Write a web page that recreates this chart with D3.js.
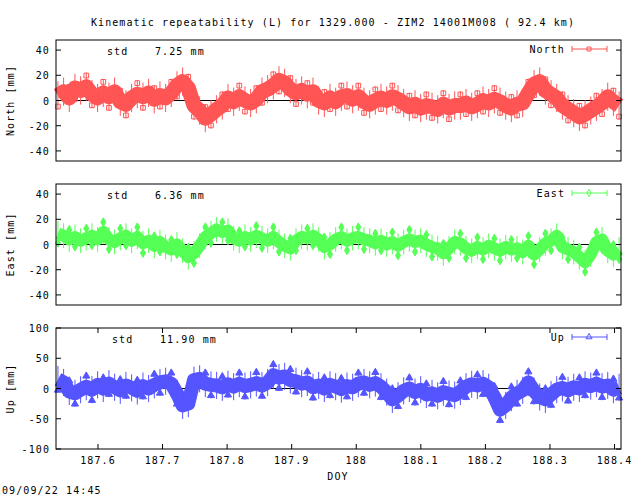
<!DOCTYPE html>
<html><head><meta charset="utf-8">
<script src="https://cdn.jsdelivr.net/npm/d3@7"></script>
<style>body{margin:0;background:#fff}text{font-family:"DejaVu Sans Mono",monospace;font-size:10px;letter-spacing:1.1px;fill:#000}</style>
</head><body><svg id="c" width="640" height="496"></svg>
<script>
const xStart = 187.535, xEnd = 188.41;
const xTicks = [187.6,187.7,187.8,187.9,188,188.1,188.2,188.3,188.4];
const xTickLabels = ["187.6","187.7","187.8","187.9","188","188.1","188.2","188.3","188.4"];
const north = [4,7,2,10,8,11,5,2,6,3,7,-1,-3,2,5,3,6,1,4,2,6,12,15,10,-4,-8,-14,-11,-7,-4,2,-1,3,0,-2,1,7,9,12,16,14,9,6,8,5,7,0,-2,2,-1,3,4,1,3,-1,-3,0,2,0,3,1,-2,-5,-3,-6,-4,-5,-7,-3,-6,-4,-4,-2,-5,-3,0,-2,1,-1,-4,-6,-3,-2,6,13,15,8,5,2,-4,-7,-10,-13,-11,-8,-5,-2,3,-1,-4];
const east = [9,7,4,6,3,5,7,4,10,4,2,5,7,3,6,1,3,-1,2,-2,-4,0,-5,-10,-7,-1,6,9,12,10,11,5,3,6,4,7,5,3,6,2,-1,-3,3,6,5,7,4,-2,0,4,6,3,5,6,4,3,1,3,0,2,-1,2,4,2,3,0,-2,-3,-7,-3,2,1,-3,-5,-2,-4,-1,-3,-5,-2,-4,-3,-6,-1,-8,-4,1,3,7,-2,-4,-6,-10,-14,-8,2,4,-5,-8,-4];
const up = [15,10,-5,-8,-2,3,-2,6,0,8,2,-3,5,1,-4,4,0,6,10,12,8,-8,-28,-25,14,16,8,6,5,2,7,3,8,4,6,9,5,10,22,18,20,14,12,8,10,2,5,0,6,3,-1,4,2,8,10,6,9,3,-6,-18,-12,-4,0,-6,-2,-10,-8,-12,-6,-9,-11,-5,3,7,5,8,2,-14,-35,-28,-15,-8,-3,10,-4,-14,-18,-10,-2,1,-3,2,0,6,4,8,3,5,-2,2];
const panels = [
 {name:"North", label:"North [mm]", data:north, std:"7.25", color:"#ff5555", top:40, dom:[-48,48], ticks:[-40,-20,0,20,40], err:8, sym:"square", sw:15},
 {name:"East", label:"East [mm]", data:east, std:"6.36", color:"#55ff55", top:184, dom:[-48,48], ticks:[-40,-20,0,20,40], err:7, sym:"diamond", sw:12},
 {name:"Up", label:"Up [mm]", data:up, std:"11.90", color:"#5555ff", top:328, dom:[-100,100], ticks:[-100,-50,0,50,100], err:16, sym:"triangle", sw:14}
];
const svg = d3.select("#c");
const L=56,R=621,H=121;
const x = d3.scaleLinear().domain([xStart,xEnd]).range([L,R]);
svg.append("text").attr("x",333).attr("y",26).attr("text-anchor","middle")
  .text("Kinematic repeatability (L) for 1329.000 - ZIM2 14001M008  ( 92.4 km)");
panels.forEach((p,pi)=>{
  const y = d3.scaleLinear().domain(p.dom).range([p.top+H,p.top]);
  const g = svg.append("g");
  const n = p.data.length;
  const xs = i => xStart + 0.003 + i*(xEnd-xStart-0.006)/(n-1);
  g.append("line").attr("x1",L).attr("x2",R).attr("y1",y(0)).attr("y2",y(0)).attr("stroke","#000");
  g.append("path").datum(p.data).attr("fill","none").attr("stroke",p.color).attr("stroke-width",p.sw)
   .attr("stroke-linejoin","round").attr("d",d3.line().x((d,i)=>x(xs(i))).y(d=>y(d)));
  g.selectAll(".e").data(p.data).enter().append("line").attr("stroke",p.color)
   .attr("x1",(d,i)=>x(xs(i))).attr("x2",(d,i)=>x(xs(i)))
   .attr("y1",d=>y(d+p.err*1.4)).attr("y2",d=>y(d-p.err*1.4));
  const sym = p.sym==="square"?d3.symbolSquare:p.sym==="diamond"?d3.symbolDiamond:d3.symbolTriangle;
  g.selectAll(".m").data(p.data).enter().append("path")
   .attr("transform",(d,i)=>`translate(${x(xs(i))},${y(d+((i%3)-1)*p.err*1.1)})`)
   .attr("d",d3.symbol(sym,22)).attr("fill",p.sym==="square"?"none":p.color).attr("stroke",p.color);
  g.append("rect").attr("x",L).attr("y",p.top).attr("width",R-L).attr("height",H).attr("fill","none").attr("stroke","#000");
  p.ticks.forEach(t=>{
    g.append("line").attr("x1",L).attr("x2",L+5).attr("y1",y(t)).attr("y2",y(t)).attr("stroke","#000");
    g.append("line").attr("x1",R-5).attr("x2",R).attr("y1",y(t)).attr("y2",y(t)).attr("stroke","#000");
    g.append("text").attr("x",L-6).attr("y",y(t)+4).attr("text-anchor","end").text(t);
  });
  g.append("text").attr("transform",`translate(14,${p.top+H/2}) rotate(-90)`).attr("text-anchor","middle").text(p.label);
  g.append("text").attr("x",pi==2?112:107).attr("y",p.top+15).text("std");
  g.append("text").attr("x",pi==2?160:155).attr("y",p.top+15).text(p.std+" mm");
  g.append("text").attr("x",565).attr("y",p.top+13).attr("text-anchor","end").text(p.name);
  g.append("line").attr("x1",572).attr("x2",607).attr("y1",p.top+9).attr("y2",p.top+9).attr("stroke",p.color);
  [572,607].forEach(xx=>g.append("line").attr("x1",xx).attr("x2",xx).attr("y1",p.top+6).attr("y2",p.top+12).attr("stroke",p.color));
  g.append("path").attr("transform",`translate(589,${p.top+9})`).attr("d",d3.symbol(sym,16)).attr("fill","none").attr("stroke",p.color);
  if(pi==2){
    xTicks.forEach((t,k)=>{
      g.append("line").attr("x1",x(t)).attr("x2",x(t)).attr("y1",p.top+H).attr("y2",p.top+H-5).attr("stroke","#000");
      g.append("line").attr("x1",x(t)).attr("x2",x(t)).attr("y1",p.top).attr("y2",p.top+5).attr("stroke","#000");
      g.append("text").attr("x",x(t)).attr("y",p.top+H+15).attr("text-anchor","middle").text(xTickLabels[k]);
    });
  }
});
svg.append("text").attr("x",338).attr("y",480).attr("text-anchor","middle").text("DOY");
svg.append("text").attr("x",2).attr("y",494).text("09/09/22 14:45");
</script></body></html>
